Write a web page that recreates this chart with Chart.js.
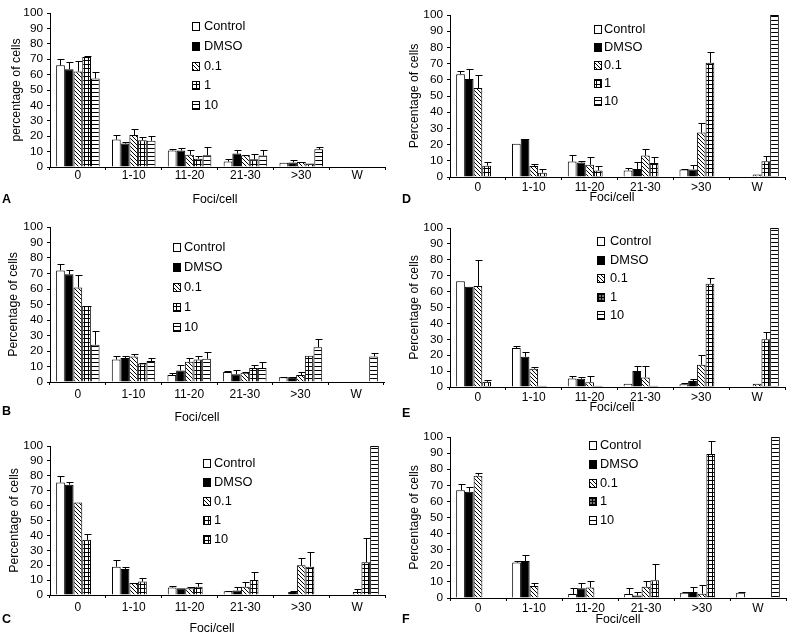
<!DOCTYPE html>
<html>
<head>
<meta charset="utf-8">
<script src="https://cdn.jsdelivr.net/npm/chart.js@4/dist/chart.umd.min.js"></script>
<style>
html,body{margin:0;padding:0;background:#fff;}
#wrap{position:relative;width:800px;height:642px;overflow:hidden;background:#fff;}
#wrap canvas{position:absolute;}
</style>
</head>
<body>
<div id="wrap"></div>
<script>
const FONT = '"Liberation Sans", Arial, Helvetica, sans-serif';

const categories = ['0', '1-10', '11-20', '21-30', '>30', 'W'];
const seriesNames = ['Control', 'DMSO', '0.1', '1', '10'];
const yMin = 0, yMax = 100, yStep = 10;

// rows: Control, DMSO, 0.1, 1, 10 ; columns follow categories
const valuesA = [
  [66, 17.8, 10.7, 3.5, 2.8, null],
  [63.5, 15.2, 10.7, 8.7, 3, null],
  [62, 20.7, 8, 7.6, 3.3, null],
  [71.5, 17.4, 5.4, 5, 2.2, null],
  [57.5, 17, 7.6, 7.4, 11.5, null]
];
const errorsA = [
  [4, 2.9, 0.8, 1.9, 0, 0],
  [4.5, 1.1, 1.9, 2.2, 1.3, 0],
  [7, 3.9, 3, 0.4, 0.2, 0],
  [0.5, 2.2, 1.8, 3.7, 0, 0],
  [4.5, 3, 5.4, 3.5, 1.5, 0]
];
const valuesB = [
  [72, 14.5, 4.5, 6.5, 3, null],
  [69.5, 15.5, 7.5, 5, 3, null],
  [61, 16.5, 13, 6, 4.5, null],
  [49, 12, 14.5, 9, 17, null],
  [24, 13.5, 15, 9, 22.5, 16.5]
];
const errorsB = [
  [4, 2.5, 1.5, 0.3, 0.5, 0],
  [3, 1, 3.5, 3, 0.5, 0],
  [8, 1.5, 2.5, 0.5, 2, 0],
  [0.3, 0.5, 2.5, 2, 0, 0],
  [9, 2, 4.5, 4, 5.5, 2]
];
const valuesC = [
  [75.5, 19, 5, 2.5, null, null],
  [74, 17.5, 4.5, 3, 2, null],
  [62, 8, 4.5, 5.5, 20, 2],
  [37, 9, 5.5, 10, 19, 22],
  [null, null, null, null, null, 100]
];
const errorsC = [
  [4.5, 4.5, 1, 0.5, 0, 0],
  [2, 1, 0, 2.5, 1, 0],
  [0, 0, 1, 3.5, 5, 2],
  [4, 2.5, 2.5, 5.5, 10, 16],
  [0, 0, 0, 0, 0, 0]
];
const valuesD = [
  [63.5, 20.5, 9.5, 4, 4.7, null],
  [60.5, 23.5, 9, 5, 4.7, null],
  [55, 6.8, 7.6, 13.2, 27.4, 1.5],
  [7, 2.7, 4, 8.7, 70.5, 9.7],
  [null, null, null, null, null, 100]
];
const errorsD = [
  [2, 0, 4, 1.8, 0.5, 0],
  [6, 0, 0.7, 4.2, 3, 0],
  [8, 1.4, 4.6, 4.3, 6.2, 0],
  [2, 2.5, 2.6, 3.9, 6.8, 3.1],
  [0, 0, 0, 0, 0, 0]
];
const valuesE = [
  [66.5, 24.5, 5.3, 2, 1.8, null],
  [63, 19, 5.2, 10, 3.7, null],
  [63.6, 11.5, 3, 6, 14, 2],
  [3.3, 0.8, 0.8, 0.8, 65, 30],
  [null, null, null, null, null, 100]
];
const errorsE = [
  [0, 1.3, 1.8, 0, 0.5, 0],
  [0, 3, 1.3, 3.5, 1.3, 0],
  [16, 1.3, 4, 7, 6.3, 0],
  [0.8, 0, 0, 0, 3.6, 4.5],
  [0, 0, 0, 0, 0, 0]
];
const valuesF = [
  [67, 22, 2.5, 2.5, 3.3, 3.3],
  [66, 23, 6, 1.5, 3.7, null],
  [76, 7.5, 6.5, 7, 2.7, null],
  [null, null, null, 11, 89.4, null],
  [null, null, null, null, null, 100]
];
const errorsF = [
  [3.5, 1, 4, 4, 0.5, 0.5],
  [3, 4, 3.5, 2, 3, 0],
  [1.5, 2, 4, 3.5, 5.2, 0],
  [0, 0, 0, 10, 8.3, 0],
  [0, 0, 0, 0, 0, 0]
];

// layout of each panel (canvas-local pixel geometry)
const panels = [
  {letter:'A', values:valuesA, errors:errorsA, yTitle:'percentage of cells', left:0, top:0, w:400, h:214,
   padTop:13, padRight:15, xh:47, xpad:0, ytp:9, letterY:200, titleX:215, titleY:200, boxX:192, textX:204, legY:26, legDy:19.8, legOverride:{}},
  {letter:'D', values:valuesD, errors:errorsD, yTitle:'Percentage of cells', left:400, top:0, w:400, h:214,
   padTop:15, padRight:15, xh:37, xpad:2, ytp:7, letterY:200, titleX:212, titleY:198, boxX:194, textX:204, legY:29.3, legDy:18, legOverride:{}},
  {letter:'B', values:valuesB, errors:errorsB, yTitle:'Percentage of cells', left:0, top:210, w:400, h:216,
   padTop:17, padRight:16, xh:44, xpad:3.5, ytp:6, letterY:202, titleX:197, titleY:208, boxX:173, textX:184, legY:36.7, legDy:20, legOverride:{}},
  {letter:'E', values:valuesE, errors:errorsE, yTitle:'Percentage of cells', left:400, top:210, w:400, h:216,
   padTop:18, padRight:15, xh:39, xpad:1.3, ytp:7, letterY:204, titleX:212, titleY:198, boxX:197, textX:210, legY:31, legDy:18.5, legOverride:{3:'dark'}},
  {letter:'C', values:valuesC, errors:errorsC, yTitle:'Percentage of cells', left:0, top:420, w:400, h:222,
   padTop:26, padRight:15, xh:47, xpad:3.5, ytp:7, letterY:200, titleX:212, titleY:209, boxX:203, textX:214, legY:43.3, legDy:19, legOverride:{4:'grid'}},
  {letter:'F', values:valuesF, errors:errorsF, yTitle:'Percentage of cells', left:400, top:420, w:400, h:222,
   padTop:17, padRight:14, xh:44, xpad:1.5, ytp:7, letterY:200, titleX:218, titleY:200, boxX:189, textX:200, legY:25, legDy:18.75, legOverride:{3:'dark'}}
];

function makePatterns(ctx) {
  function tile(w, h, bg, draw) {
    const c = document.createElement('canvas');
    c.width = w; c.height = h;
    const x = c.getContext('2d');
    x.fillStyle = bg; x.fillRect(0, 0, w, h);
    x.fillStyle = '#000';
    draw(x);
    return ctx.createPattern(c, 'repeat');
  }
  const diag = tile(4, 4, '#fff', x => { for (let i = 0; i < 4; i++) x.fillRect(i, i, 1, 1); });
  const grid = tile(4, 4, '#fff', x => { x.fillRect(0, 0, 4, 1); x.fillRect(0, 0, 1, 4); });
  const horiz = tile(4, 4, '#fff', x => { x.fillRect(0, 0, 4, 1); });
  const dark = tile(3, 3, '#777', x => { x.fillRect(0, 0, 3, 1); x.fillRect(0, 0, 1, 3); });
  return { list: ['#ffffff', '#000000', diag, grid, horiz], grid, dark };
}

const errorBarPlugin = {
  id: 'errbars',
  afterDatasetsDraw(chart) {
    const ctx = chart.ctx, ys = chart.scales.y;
    ctx.save();
    ctx.strokeStyle = '#000'; ctx.lineWidth = 1;
    chart.data.datasets.forEach((ds, di) => {
      const meta = chart.getDatasetMeta(di);
      meta.data.forEach((bar, i) => {
        const v = ds.data[i], e = ds.errors[i];
        if (v == null || !e) return;
        const x = Math.round(bar.x) + 0.5;
        const y1 = ys.getPixelForValue(v);
        const y2 = Math.round(ys.getPixelForValue(v + e)) + 0.5;
        ctx.beginPath();
        ctx.moveTo(x, y1); ctx.lineTo(x, y2);
        ctx.moveTo(x - 3, y2); ctx.lineTo(x + 4, y2);
        ctx.stroke();
      });
    });
    ctx.restore();
  }
};

function makeDeco(legendFills) {
  return {
    id: 'deco',
    afterDraw(chart, args, o) {
      const ctx = chart.ctx;
      ctx.save();
      ctx.textBaseline = 'middle';
      ctx.fillStyle = '#000';
      ctx.textAlign = 'left';
      ctx.font = 'bold 12.5px ' + FONT;
      ctx.fillText(o.letter, 2, o.letterY);
      ctx.textAlign = 'center';
      ctx.font = '12.3px ' + FONT;
      ctx.fillText('Foci/cell', o.titleX, o.titleY);
      ctx.textAlign = 'left';
      ctx.font = '12.8px ' + FONT;
      chart.data.datasets.forEach((ds, i) => {
        const cy = Math.round(o.legY + i * o.legDy);
        ctx.fillStyle = legendFills[i];
        ctx.fillRect(o.boxX, cy - 4, 7, 8);
        ctx.strokeStyle = '#000'; ctx.lineWidth = 1;
        ctx.strokeRect(o.boxX + 0.5, cy - 3.5, 7, 8);
        ctx.fillStyle = '#000';
        ctx.fillText(ds.label, o.textX, cy + 0.5);
      });
      ctx.restore();
    }
  };
}

const wrap = document.getElementById('wrap');
panels.forEach(p => {
  const cv = document.createElement('canvas');
  cv.width = p.w; cv.height = p.h;
  cv.style.left = p.left + 'px'; cv.style.top = p.top + 'px';
  cv.style.width = p.w + 'px'; cv.style.height = p.h + 'px';
  wrap.appendChild(cv);
  const ctx = cv.getContext('2d');
  const pats = makePatterns(ctx);
  const fills = pats.list;
  const legendFills = fills.map((f, i) => p.legOverride[i] ? pats[p.legOverride[i]] : f);
  const datasets = seriesNames.map((name, i) => ({
    label: name,
    data: p.values[i],
    errors: p.errors[i],
    backgroundColor: fills[i],
    borderColor: '#000',
    borderWidth: 1,
    borderSkipped: 'start'
  }));
  new Chart(ctx, {
    type: 'bar',
    data: { labels: categories, datasets },
    plugins: [errorBarPlugin, makeDeco(legendFills)],
    options: {
      responsive: false,
      animation: false,
      devicePixelRatio: 1,
      events: [],
      layout: { padding: { left: 0, top: p.padTop, right: p.padRight, bottom: 0 } },
      datasets: { bar: { categoryPercentage: 0.78, barPercentage: 1 } },
      plugins: {
        legend: { display: false },
        tooltip: { enabled: false },
        deco: { letter: p.letter, letterY: p.letterY, titleX: p.titleX, titleY: p.titleY,
                boxX: p.boxX, textX: p.textX, legY: p.legY, legDy: p.legDy }
      },
      scales: {
        x: {
          offset: true,
          grid: { offset: true, display: true, drawOnChartArea: false, drawTicks: true, tickLength: 3, color: '#000', lineWidth: 1 },
          border: { display: true, color: '#000', width: 1 },
          ticks: { color: '#000', font: { family: FONT, size: 12, lineHeight: 1 }, padding: p.xpad, maxRotation: 0, autoSkip: false },
          afterFit: s => { s.height = p.xh; }
        },
        y: {
          min: yMin, max: yMax,
          grid: { drawOnChartArea: false, drawTicks: true, tickLength: 3, color: '#000', lineWidth: 1 },
          border: { display: true, color: '#000', width: 1 },
          ticks: { stepSize: yStep, color: '#000', font: { family: FONT, size: 11.8, lineHeight: 1 }, padding: 4 },
          title: { display: true, text: p.yTitle, color: '#000', font: { family: FONT, size: 12.3, lineHeight: 1.2 }, padding: { top: p.ytp, bottom: 0 } },
          afterFit: s => { s.width = 50; }
        }
      }
    }
  });
});
</script>
</body>
</html>
